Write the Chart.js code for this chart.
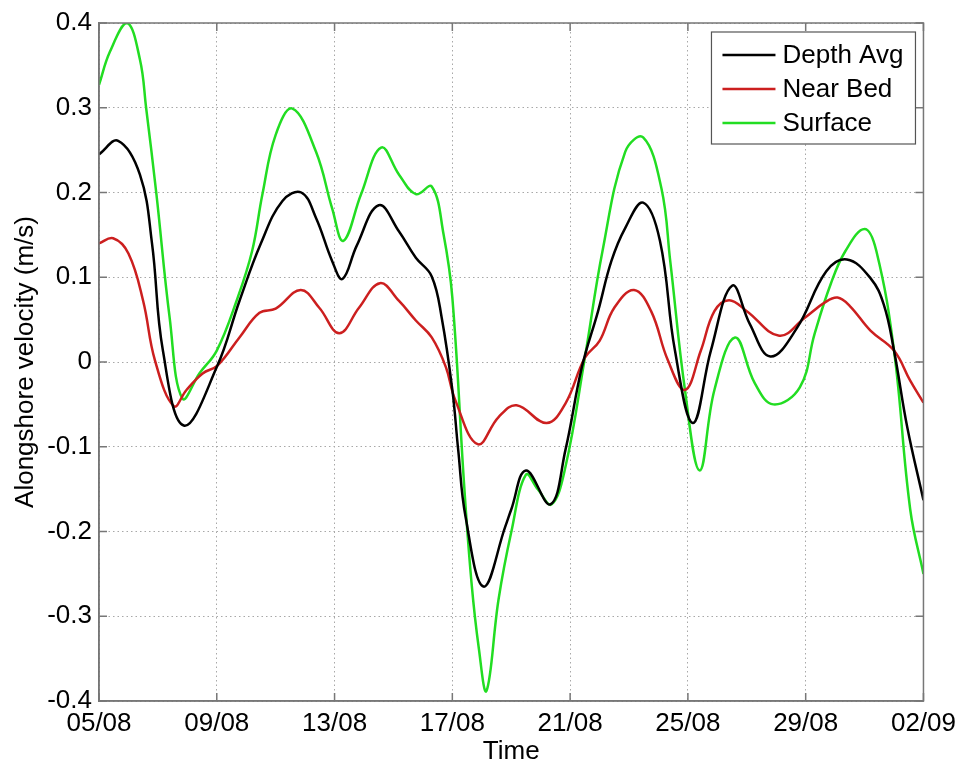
<!DOCTYPE html>
<html lang="en">
<head>
<meta charset="UTF-8">
<title>Alongshore velocity</title>
<script src="https://cdn.jsdelivr.net/npm/chart.js"></script>
<style>
  html, body { margin: 0; padding: 0; background: #fff; }
  canvas { display: block; }
</style>
</head>
<body>
<canvas id="velocityChart" width="963" height="767"></canvas>
<script>
// x values are days after 05/08
const xTickLabels = ["05/08", "09/08", "13/08", "17/08", "21/08", "25/08", "29/08", "02/09"];

const depthAvgDays = [0, 0.65, 1.39, 1.8, 2.17, 2.88, 4.0, 4.77, 5.5, 6.23, 6.87, 7.37, 7.92, 8.27, 8.75,
  9.5, 10.19, 10.76, 11.3, 11.64, 12.0, 12.2, 12.45, 13.06, 13.8, 14.0, 14.5, 15.33, 15.84, 16.4, 16.95,
  17.4, 17.87, 18.48, 19.05, 19.56, 20.17, 20.78, 21.5, 22.1, 22.8, 23.7, 24.7, 25.4, 26.2, 26.65, 27.0, 27.45, 28];
const depthAvgValues = [0.245, 0.261, 0.221, 0.14, 0.0135, -0.075, -0.006, 0.072, 0.14, 0.19, 0.2, 0.17, 0.119, 0.098, 0.137,
  0.185, 0.154, 0.123, 0.101, 0.052, -0.033, -0.104, -0.183, -0.265, -0.194, -0.174, -0.128, -0.168, -0.104, -0.006, 0.06,
  0.119, 0.158, 0.188, 0.143, 0.0135, -0.072, 0.0135, 0.09, 0.045, 0.0065, 0.04, 0.107, 0.121, 0.099, 0.068, 0.0135, -0.077, -0.163];

const nearBedDays = [0, 0.48, 1.0, 1.5, 1.9, 2.54, 2.97, 3.52, 4.03, 4.77, 5.45, 6.0, 6.85, 7.48, 8.16, 8.83,
  9.54, 10.19, 10.76, 11.3, 11.78, 12.1, 12.86, 13.57, 14.18, 15.2, 15.84, 16.5, 17.0, 17.5, 18.17, 18.75,
  19.32, 19.9, 20.44, 20.9, 21.4, 22.0, 23.1, 23.96, 24.64, 25.08, 25.5, 26.2, 27.0, 27.55, 28];
const nearBedValues = [0.14, 0.146, 0.128, 0.072, 0.002, -0.052, -0.033, -0.0135, -0.004, 0.029, 0.058, 0.063, 0.085, 0.064, 0.034, 0.064,
  0.093, 0.072, 0.049, 0.029, -0.006, -0.045, -0.097, -0.065, -0.051, -0.072, -0.049, 0.005, 0.025, 0.064, 0.085, 0.06,
  0.002, -0.033, 0.0135, 0.06, 0.073, 0.06, 0.031, 0.052, 0.07, 0.076, 0.066, 0.037, 0.0135, -0.022, -0.048];

const surfaceDays = [0, 0.37, 0.95, 1.39, 1.6, 1.95, 2.4, 2.83, 3.42, 4.0, 4.67, 5.2, 5.55, 6.0, 6.57,
  7.37, 7.92, 8.3, 8.9, 9.58, 10.19, 10.76, 11.3, 11.7, 12.0, 12.4, 12.65, 12.9, 13.16, 13.57,
  14.0, 14.5, 14.9, 15.37, 15.84, 16.5, 17.1, 17.87, 18.48, 19.1, 19.4, 19.9, 20.4, 20.9, 21.6,
  22.27, 22.9, 23.8, 24.3, 24.85, 25.35, 26.0, 26.4, 27.0, 27.55, 28];
const surfaceValues = [0.327, 0.366, 0.4, 0.357, 0.3, 0.198, 0.052, -0.043, -0.013, 0.0135, 0.072, 0.131, 0.198, 0.268, 0.299,
  0.248, 0.181, 0.143, 0.198, 0.253, 0.221, 0.198, 0.207, 0.151, 0.076, -0.145, -0.26, -0.338, -0.388, -0.28,
  -0.201, -0.133, -0.15, -0.168, -0.124, 0.005, 0.131, 0.248, 0.265, 0.205, 0.119, -0.033, -0.128, -0.033, 0.029,
  -0.025, -0.05, -0.03, 0.033, 0.092, 0.131, 0.157, 0.131, 0.0135, -0.174, -0.25];

function toPoints(days, values) {
  return days.map((d, i) => ({ x: d, y: values[i] }));
}

Chart.defaults.font.family = "'Liberation Sans', Arial, sans-serif";
Chart.defaults.font.size = 26;
Chart.defaults.color = "#000";

// axis box with inward tick marks on all four sides
const framePlugin = {
  id: "frame",
  afterDatasetsDraw(chart) {
    const { ctx, chartArea: a, scales: { x, y } } = chart;
    ctx.save();
    ctx.strokeStyle = "#777";
    ctx.lineWidth = 1.5;
    ctx.strokeRect(a.left, a.top, a.width, a.height);
    ctx.beginPath();
    x.ticks.forEach(t => {
      const px = x.getPixelForValue(t.value);
      ctx.moveTo(px, a.bottom); ctx.lineTo(px, a.bottom - 8);
      ctx.moveTo(px, a.top); ctx.lineTo(px, a.top + 8);
    });
    y.ticks.forEach(t => {
      const py = y.getPixelForValue(t.value);
      ctx.moveTo(a.left, py); ctx.lineTo(a.left + 8, py);
      ctx.moveTo(a.right, py); ctx.lineTo(a.right - 8, py);
    });
    ctx.stroke();
    ctx.restore();
  }
};

// boxed legend in the top right corner of the plot
const legendBoxPlugin = {
  id: "legendBox",
  afterDraw(chart) {
    const { ctx, chartArea: a } = chart;
    const w = 204, h = 112;
    const bx = a.right - 8 - w, by = a.top + 9;
    ctx.save();
    ctx.fillStyle = "#fff";
    ctx.fillRect(bx, by, w, h);
    ctx.strokeStyle = "#555";
    ctx.lineWidth = 1.2;
    ctx.strokeRect(bx, by, w, h);
    ctx.font = "26px 'Liberation Sans', Arial, sans-serif";
    ctx.textBaseline = "middle";
    ctx.fillStyle = "#000";
    chart.data.datasets.forEach((ds, i) => {
      const cy = by + 23 + i * 34;
      ctx.strokeStyle = ds.borderColor;
      ctx.lineWidth = 2.5;
      ctx.beginPath();
      ctx.moveTo(bx + 11, cy);
      ctx.lineTo(bx + 64, cy);
      ctx.stroke();
      ctx.fillText(ds.label, bx + 71, cy + 1);
    });
    ctx.restore();
  }
};

const gridStyle = { color: "#a8a8a8", lineWidth: 1, drawTicks: false };
const borderStyle = { display: true, color: "#777", width: 1.5, dash: [1.5, 3] };

new Chart(document.getElementById("velocityChart"), {
  type: "line",
  data: {
    datasets: [
      { label: "Depth Avg", data: toPoints(depthAvgDays, depthAvgValues), borderColor: "#000000" },
      { label: "Near Bed", data: toPoints(nearBedDays, nearBedValues), borderColor: "#cc1f1f" },
      { label: "Surface", data: toPoints(surfaceDays, surfaceValues), borderColor: "#22dd22" }
    ]
  },
  options: {
    responsive: false,
    animation: false,
    layout: { padding: { top: 23, right: 35, bottom: 0, left: 0 } },
    elements: {
      line: { borderWidth: 2.5, tension: 0.4, fill: false },
      point: { radius: 0 }
    },
    plugins: { legend: { display: false }, tooltip: { enabled: false } },
    scales: {
      x: {
        type: "linear",
        min: 0,
        max: 28,
        grid: gridStyle,
        border: borderStyle,
        ticks: {
          stepSize: 4,
          autoSkip: false,
          maxRotation: 0,
          padding: 7,
          callback: v => xTickLabels[v / 4]
        },
        title: { display: true, text: "Time", padding: { top: 0, bottom: 0 } },
        afterFit: s => { s.height = 66; }
      },
      y: {
        min: -0.4,
        max: 0.4,
        grid: gridStyle,
        border: borderStyle,
        ticks: {
          stepSize: 0.1,
          padding: 7,
          callback: v => (Math.abs(v) < 1e-9 ? "0" : v.toFixed(1))
        },
        title: { display: true, text: "Alongshore velocity (m/s)", padding: { top: 10, bottom: 0 } },
        afterFit: s => { s.width = 99; }
      }
    }
  },
  plugins: [framePlugin, legendBoxPlugin]
});
</script>
</body>
</html>
